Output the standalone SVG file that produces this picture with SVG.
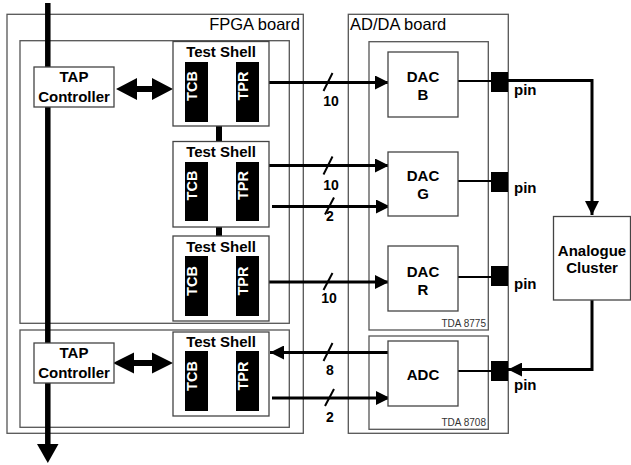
<svg xmlns="http://www.w3.org/2000/svg" width="631" height="465" viewBox="0 0 631 465">
<style>
.board{fill:none;stroke:#555;stroke-width:1.3}
.box{fill:#fff;stroke:#444;stroke-width:1.3}
.blk{fill:#000}
.t{font-family:"Liberation Sans",Arial,sans-serif;font-weight:bold;font-size:15px;fill:#000;text-anchor:middle}
.tw{font-family:"Liberation Sans",Arial,sans-serif;font-weight:bold;font-size:14.5px;fill:#fff;text-anchor:middle}
.lab{font-family:"Liberation Sans",Arial,sans-serif;font-weight:bold;font-size:14px;fill:#000;text-anchor:middle}
.brd{font-family:"Liberation Sans",Arial,sans-serif;font-size:16.5px;fill:#000}
.sm{font-family:"Liberation Sans",Arial,sans-serif;font-size:10px;fill:#333;text-anchor:end}
.sig{fill:none;stroke:#000;stroke-width:3}
.thin{fill:none;stroke:#000;stroke-width:2}
.sl{stroke:#000;stroke-width:2}
</style>
<defs>
<marker id="ah" markerUnits="userSpaceOnUse" markerWidth="14" markerHeight="14" refX="14" refY="7" orient="auto">
<path d="M0,0 L14,7 L0,14 Z" fill="#000"/>
</marker>
</defs>
<g id="boards">
<rect class="board" x="7" y="14.3" width="296.3" height="419"/>
<text class="brd" x="300" y="30" text-anchor="end">FPGA board</text>
<rect class="board" x="20" y="40.7" width="269.3" height="282.6"/>
<rect class="board" x="20" y="330" width="269.3" height="97.3"/>
<rect class="board" x="348.3" y="14.3" width="160" height="419"/>
<text class="brd" x="350" y="30">AD/DA board</text>
<rect class="board" x="369" y="41.7" width="119.3" height="288.3"/>
<text class="sm" x="486" y="327">TDA 8775</text>
<rect class="board" x="369" y="336" width="119.3" height="93.3"/>
<text class="sm" x="486" y="426">TDA 8708</text>
</g>
<g id="connectors">
<line x1="47.8" y1="3" x2="47.8" y2="446" stroke="#000" stroke-width="5.5"/>
<path d="M37,444 L58.5,444 L47.8,463 Z" fill="#000"/>
<path d="M116,89 L137,78 L137,86 L152,86 L152,78 L173,89 L152,100 L152,92 L137,92 L137,100 Z" fill="#000"/>
<path d="M113,363 L134,352.5 L134,360 L152,360 L152,352.5 L173,363 L152,373.5 L152,366 L134,366 L134,373.5 Z" fill="#000"/>
<rect x="216" y="126" width="6" height="15" fill="#000"/>
<rect x="216" y="227" width="6" height="9" fill="#000"/>
<line class="sig" x1="269" y1="82.5" x2="389" y2="82.5" marker-end="url(#ah)"/>
<line class="sl" x1="323.5" y1="91" x2="332.5" y2="73"/>
<text class="lab" x="331" y="106">10</text>
<line class="sig" x1="269" y1="165.5" x2="389" y2="165.5" marker-end="url(#ah)"/>
<line class="sl" x1="323.5" y1="174.5" x2="332.5" y2="156.5"/>
<text class="lab" x="331" y="190">10</text>
<line class="sig" x1="272" y1="206.5" x2="390" y2="206.5" marker-end="url(#ah)"/>
<line class="sl" x1="325" y1="214.5" x2="334" y2="197.5"/>
<text class="lab" x="330" y="221">2</text>
<line class="sig" x1="269" y1="282" x2="389" y2="282" marker-end="url(#ah)"/>
<line class="sl" x1="323.5" y1="290" x2="332.5" y2="273"/>
<text class="lab" x="329" y="303">10</text>
<line class="sig" x1="388" y1="352.5" x2="270" y2="352.5" marker-end="url(#ah)"/>
<line class="sl" x1="323.5" y1="361" x2="332.5" y2="343"/>
<text class="lab" x="330" y="375">8</text>
<line class="sig" x1="272" y1="398" x2="390" y2="398" marker-end="url(#ah)"/>
<line class="sl" x1="325" y1="406" x2="334" y2="389"/>
<text class="lab" x="330" y="422">2</text>
<line class="thin" x1="458" y1="81" x2="492" y2="81"/>
<line class="thin" x1="458" y1="181" x2="492" y2="181"/>
<line class="thin" x1="458" y1="277" x2="492" y2="277"/>
<line class="thin" x1="458" y1="371" x2="492" y2="371"/>
<path class="sig" d="M508,80.5 L592,80.5 L592,215" marker-end="url(#ah)"/>
<path class="sig" d="M592,300 L592,369.5 L508,369.5" marker-end="url(#ah)"/>
</g>
<g id="tap1">
<rect class="box" x="34" y="67" width="80" height="40"/>
<text class="t" x="74" y="82">TAP</text>
<text class="t" x="74" y="102">Controller</text>
</g>
<g id="tap2">
<rect class="box" x="34" y="343" width="80" height="40"/>
<text class="t" x="74" y="358">TAP</text>
<text class="t" x="74" y="377.5">Controller</text>
</g>
<g id="shell1">
<rect class="box" x="173" y="41.5" width="96" height="84.5"/>
<text class="t" x="221" y="57">Test Shell</text>
<rect class="blk" x="185" y="62" width="23" height="60"/>
<rect class="blk" x="236" y="62" width="23" height="60"/>
<text class="tw" x="201.5" y="91" transform="rotate(-90 196.5 91)">TCB</text>
<text class="tw" x="252.5" y="91" transform="rotate(-90 247.5 91)">TPR</text>
</g>
<g id="shell2">
<rect class="box" x="173" y="141.5" width="96" height="85.5"/>
<text class="t" x="221" y="157">Test Shell</text>
<rect class="blk" x="185" y="162" width="23" height="59"/>
<rect class="blk" x="236" y="162" width="23" height="59"/>
<text class="tw" x="201.5" y="190.5" transform="rotate(-90 196.5 190.5)">TCB</text>
<text class="tw" x="252.5" y="190.5" transform="rotate(-90 247.5 190.5)">TPR</text>
</g>
<g id="shell3">
<rect class="box" x="173" y="236" width="96" height="85"/>
<text class="t" x="221" y="252">Test Shell</text>
<rect class="blk" x="185" y="256" width="23" height="60"/>
<rect class="blk" x="236" y="256" width="23" height="60"/>
<text class="tw" x="201.5" y="286" transform="rotate(-90 196.5 286)">TCB</text>
<text class="tw" x="252.5" y="286" transform="rotate(-90 247.5 286)">TPR</text>
</g>
<g id="shell4">
<rect class="box" x="173" y="332" width="96" height="84"/>
<text class="t" x="221" y="347">Test Shell</text>
<rect class="blk" x="185" y="351" width="23" height="60"/>
<rect class="blk" x="236" y="351" width="23" height="60"/>
<text class="tw" x="201.5" y="381" transform="rotate(-90 196.5 381)">TCB</text>
<text class="tw" x="252.5" y="381" transform="rotate(-90 247.5 381)">TPR</text>
</g>
<g id="dacB">
<rect class="box" x="388" y="52" width="70" height="65"/>
<text class="t" x="423" y="81.5">DAC</text>
<text class="t" x="423" y="99.5">B</text>
</g>
<g id="dacG">
<rect class="box" x="388" y="152" width="70" height="64"/>
<text class="t" x="423" y="180.5">DAC</text>
<text class="t" x="423" y="198.5">G</text>
</g>
<g id="dacR">
<rect class="box" x="388" y="246" width="70" height="65"/>
<text class="t" x="423" y="277">DAC</text>
<text class="t" x="423" y="295">R</text>
</g>
<g id="adc">
<rect class="box" x="388" y="341" width="70" height="65"/>
<text class="t" x="423" y="380">ADC</text>
</g>
<g id="pins">
<rect class="blk" x="491" y="72" width="17" height="20"/>
<text class="t" x="514" y="95" text-anchor="start" style="text-anchor:start">pin</text>
<rect class="blk" x="491" y="172" width="17" height="20"/>
<text class="t" x="514" y="193" style="text-anchor:start">pin</text>
<rect class="blk" x="491" y="266" width="17" height="20"/>
<text class="t" x="514" y="289" style="text-anchor:start">pin</text>
<rect class="blk" x="491" y="361" width="17" height="20"/>
<text class="t" x="514" y="390" style="text-anchor:start">pin</text>
</g>
<g id="analogue">
<rect class="box" x="553.5" y="216.5" width="77" height="83.5"/>
<text class="t" x="592" y="256">Analogue</text>
<text class="t" x="592" y="273">Cluster</text>
</g>
</svg>
